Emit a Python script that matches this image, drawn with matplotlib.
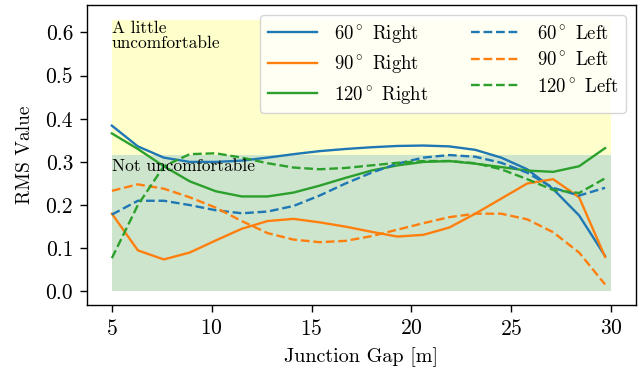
import numpy as np
import matplotlib
matplotlib.use("Agg")
import matplotlib.pyplot as plt

plt.rcParams['font.family'] = ['cmr10', 'DejaVu Serif']
plt.rcParams['mathtext.fontset'] = 'cm'
plt.rcParams['axes.formatter.use_mathtext'] = True
plt.rcParams['axes.unicode_minus'] = False

gap = [5.0, 6.3, 7.6, 8.9, 10.2, 11.5, 12.8, 14.1, 15.4, 16.7,
       18.0, 19.3, 20.6, 21.9, 23.2, 24.5, 25.8, 27.1, 28.4, 29.7]

right_60 = [0.384, 0.336, 0.31, 0.30, 0.30, 0.303, 0.31, 0.318, 0.325, 0.33,
            0.334, 0.337, 0.338, 0.336, 0.328, 0.31, 0.283, 0.237, 0.176, 0.082]
right_90 = [0.18, 0.095, 0.074, 0.09, 0.118, 0.145, 0.163, 0.168, 0.16, 0.15,
            0.138, 0.127, 0.131, 0.148, 0.18, 0.215, 0.25, 0.26, 0.218, 0.08]
right_120 = [0.366, 0.33, 0.29, 0.255, 0.232, 0.22, 0.22, 0.229, 0.245, 0.263,
             0.28, 0.292, 0.30, 0.302, 0.296, 0.288, 0.28, 0.277, 0.29, 0.332]
left_60 = [0.178, 0.21, 0.21, 0.20, 0.188, 0.181, 0.185, 0.198, 0.222, 0.25,
           0.275, 0.296, 0.31, 0.316, 0.312, 0.298, 0.275, 0.24, 0.222, 0.24]
left_90 = [0.233, 0.248, 0.238, 0.218, 0.194, 0.163, 0.135, 0.12, 0.114, 0.117,
           0.128, 0.143, 0.158, 0.172, 0.18, 0.18, 0.167, 0.137, 0.09, 0.016]
left_120 = [0.077, 0.2, 0.29, 0.318, 0.32, 0.31, 0.297, 0.287, 0.283, 0.286,
            0.292, 0.298, 0.302, 0.302, 0.297, 0.283, 0.26, 0.235, 0.228, 0.262]

labels = [r'60$^\circ$ Right', r'90$^\circ$ Right', r'120$^\circ$ Right',
          r'60$^\circ$ Left', r'90$^\circ$ Left', r'120$^\circ$ Left']

zone_x = [5, 30]
zone_low = [0.0, 0.315]
zone_high = [0.315, 0.63]

fig = plt.figure(figsize=(6.44, 3.74), dpi=100)
ax = fig.add_axes([0.135, 0.1845, 0.8526, 0.802])

ax.fill_between(zone_x, zone_high[0], zone_high[1], color='yellow', alpha=0.2, lw=0)
ax.fill_between(zone_x, zone_low[0], zone_low[1], color='green', alpha=0.2, lw=0)

lw = 1.7
ax.plot(gap, right_60, color='C0', lw=lw, label=labels[0])
ax.plot(gap, right_90, color='C1', lw=lw, label=labels[1])
ax.plot(gap, right_120, color='C2', lw=lw, label=labels[2])
ax.plot(gap, left_60, color='C0', lw=lw, ls='--', label=labels[3])
ax.plot(gap, left_90, color='C1', lw=lw, ls='--', label=labels[4])
ax.plot(gap, left_120, color='C2', lw=lw, ls='--', label=labels[5])

ax.text(5, 0.627, 'A little\nuncomfortable', fontsize=12.5, va='top', ha='left',
        linespacing=0.95)
ax.text(5, 0.307, 'Not uncomfortable', fontsize=12.5, va='top', ha='left')

ax.set_xlim(3.75, 31.25)
ax.set_ylim(-0.0316, 0.6636)
ax.set_xticks([5, 10, 15, 20, 25, 30])
ax.set_yticks([0.0, 0.1, 0.2, 0.3, 0.4, 0.5, 0.6])
ax.set_yticklabels(['0.0', '0.1', '0.2', '0.3', '0.4', '0.5', '0.6'])
ax.tick_params(labelsize=15.5, direction='out', length=5, width=1.0, pad=5)
for s in ax.spines.values():
    s.set_linewidth(1.0)

ax.set_xlabel('Junction Gap [m]', fontsize=14.5, labelpad=6)
ax.set_ylabel('RMS Value', fontsize=14, labelpad=8)

ax.legend(loc='upper right', ncol=2, fontsize=13.5, handlelength=2.6,
          columnspacing=2.3, handletextpad=0.9, borderaxespad=0.55,
          labelspacing=0.45, framealpha=0.8)

fig.savefig('out.png', dpi=100)
